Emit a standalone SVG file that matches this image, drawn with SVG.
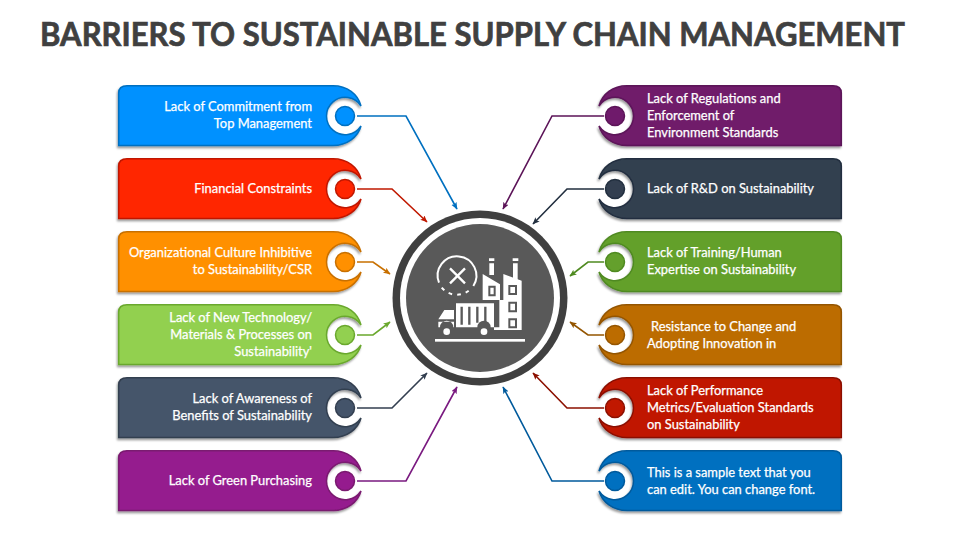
<svg xmlns="http://www.w3.org/2000/svg" width="960" height="540" viewBox="0 0 960 540">
<style>
text{font-family:"Lato","Open Sans","Liberation Sans",sans-serif}
.title{font-size:33px;font-weight:700;fill:#404040;stroke:#404040;stroke-width:.7}
.t{font-size:12.9px;font-weight:400;fill:#fff;stroke:#fff;stroke-width:.25}
.l{text-anchor:end}
.tag{stroke-width:1.5;filter:url(#sh)}
.dot{stroke-width:1.5}
.c{fill:none;stroke-width:1.6}
.w{fill:#fff}
.ws{fill:none;stroke:#fff}
</style>
<defs>
<filter id="sh" x="-5%" y="-10%" width="110%" height="125%"><feDropShadow dx="-1" dy="2" stdDeviation="1.2" flood-color="#000" flood-opacity="0.4"/></filter>
<path id="tl" d="M127,.7H333C347,.7 358,9 361,21A18.7,18.7 0 1 0 361,41C358,52 347,60.500 333,60.500H118.700V8Q118.700,.7 127,.7Z"/>
<path id="tr" d="M833,.7H627C613,.7 602,9 599,21A18.7,18.7 0 1 1 599,41C602,52 613,60.500 627,60.500H841.300V8Q841.300,.7 833,.7Z"/>
<marker id="a" markerWidth="8" markerHeight="8" refX="6.5" refY="3" orient="auto" markerUnits="userSpaceOnUse"><path d="M0,0L7,3L0,6L1.5,3Z" fill="context-stroke"/></marker>
</defs>
<text class="title" x="40" y="46" textLength="865" lengthAdjust="spacingAndGlyphs">BARRIERS TO SUSTAINABLE SUPPLY CHAIN MANAGEMENT</text>
<g id="connectors">
<path class="c" marker-end="url(#a)" stroke="#0070c0" d="M357,116H406L457,209"/>
<path class="c" marker-end="url(#a)" stroke="#c01800" d="M357,189H392L427,222"/>
<path class="c" marker-end="url(#a)" stroke="#c87000" d="M357,262H373L390,274"/>
<path class="c" marker-end="url(#a)" stroke="#6aa82d" d="M357,335H373L390,322"/>
<path class="c" marker-end="url(#a)" stroke="#333f50" d="M357,408H392L427,373"/>
<path class="c" marker-end="url(#a)" stroke="#7a1a80" d="M357,481H406L457,387"/>
<path class="c" marker-end="url(#a)" stroke="#5c1458" d="M604,116H552L503,209"/>
<path class="c" marker-end="url(#a)" stroke="#222f3f" d="M604,189H567L533,224"/>
<path class="c" marker-end="url(#a)" stroke="#4f8a20" d="M604,262H588L570,276"/>
<path class="c" marker-end="url(#a)" stroke="#945500" d="M604,335H588L570,322"/>
<path class="c" marker-end="url(#a)" stroke="#8c1000" d="M604,408H567L533,373"/>
<path class="c" marker-end="url(#a)" stroke="#005a9c" d="M604,481H552L503,387"/>
</g>
<g id="n1"><use href="#tl" y="85" class="tag" fill="#0091ff" stroke="#0070c0"/><circle class="dot" cx="345" cy="116" r="9.500" fill="#0091ff" stroke="#0070c0"/><text class="t l" x="312" y="111">Lack of Commitment from</text><text class="t l" x="312" y="128">Top Management</text></g>
<g id="n2"><use href="#tl" y="158" class="tag" fill="#ff2500" stroke="#c01800"/><circle class="dot" cx="345" cy="189" r="9.500" fill="#ff2500" stroke="#c01800"/><text class="t l" x="312" y="193">Financial Constraints</text></g>
<g id="n3"><use href="#tl" y="231" class="tag" fill="#ff9000" stroke="#c87000"/><circle class="dot" cx="345" cy="262" r="9.500" fill="#ff9000" stroke="#c87000"/><text class="t l" x="312" y="257">Organizational Culture Inhibitive</text><text class="t l" x="312" y="274">to Sustainability/CSR</text></g>
<g id="n4"><use href="#tl" y="304" class="tag" fill="#92d050" stroke="#6aa82d"/><circle class="dot" cx="345" cy="335" r="9.500" fill="#92d050" stroke="#6aa82d"/><text class="t l" x="312" y="322">Lack of New Technology/</text><text class="t l" x="312" y="339">Materials &amp; Processes on</text><text class="t l" x="312" y="356">Sustainability'</text></g>
<g id="n5"><use href="#tl" y="377" class="tag" fill="#44546a" stroke="#333f50"/><circle class="dot" cx="345" cy="408" r="9.500" fill="#44546a" stroke="#333f50"/><text class="t l" x="312" y="403">Lack of Awareness of</text><text class="t l" x="312" y="420">Benefits of Sustainability</text></g>
<g id="n6"><use href="#tl" y="450" class="tag" fill="#951b8e" stroke="#7a1a70"/><circle class="dot" cx="345" cy="481" r="9.500" fill="#951b8e" stroke="#7a1a70"/><text class="t l" x="312" y="485">Lack of Green Purchasing</text></g>
<g id="n7"><use href="#tr" y="85" class="tag" fill="#6f1a6b" stroke="#5c1458"/><circle class="dot" cx="615" cy="116" r="9.500" fill="#6f1a6b" stroke="#5c1458"/><text class="t" x="647" y="103">Lack of Regulations and</text><text class="t" x="647" y="120">Enforcement of</text><text class="t" x="647" y="137">Environment Standards</text></g>
<g id="n8"><use href="#tr" y="158" class="tag" fill="#333f50" stroke="#222f3f"/><circle class="dot" cx="615" cy="189" r="9.500" fill="#333f50" stroke="#222f3f"/><text class="t" x="647" y="193">Lack of R&amp;D on Sustainability</text></g>
<g id="n9"><use href="#tr" y="231" class="tag" fill="#64a02c" stroke="#4f8a20"/><circle class="dot" cx="615" cy="262" r="9.500" fill="#64a02c" stroke="#4f8a20"/><text class="t" x="647" y="257">Lack of Training/Human</text><text class="t" x="647" y="274">Expertise on Sustainability</text></g>
<g id="n10"><use href="#tr" y="304" class="tag" fill="#bc6c00" stroke="#945500"/><circle class="dot" cx="615" cy="335" r="9.500" fill="#bc6c00" stroke="#945500"/><text class="t" x="651" y="331">Resistance to Change and</text><text class="t" x="647" y="348">Adopting Innovation in</text></g>
<g id="n11"><use href="#tr" y="377" class="tag" fill="#c01800" stroke="#8c1000"/><circle class="dot" cx="615" cy="408" r="9.500" fill="#c01800" stroke="#8c1000"/><text class="t" x="647" y="395">Lack of Performance</text><text class="t" x="647" y="412">Metrics/Evaluation Standards</text><text class="t" x="647" y="429">on Sustainability</text></g>
<g id="n12"><use href="#tr" y="450" class="tag" fill="#0070c0" stroke="#005a9c"/><circle class="dot" cx="615" cy="481" r="9.500" fill="#0070c0" stroke="#005a9c"/><text class="t" x="647" y="477">This is a sample text that you</text><text class="t" x="647" y="494">can edit. You can change font.</text></g>
<g id="hub">
<circle cx="480" cy="298" r="87.500" fill="#404040"/><circle cx="480" cy="298" r="80" fill="#fff"/><circle cx="480" cy="298" r="74" fill="#595959"/>
<g transform="translate(430,250) scale(.33333)">
<rect class="w" x="15" y="267" width="270" height="8"/>
<path class="ws" stroke-width="6" d="M27,98A58,58 0 1 1 130,108"/>
<path class="ws" stroke-width="6" stroke-dasharray="11 15" d="M116,122A58,58 0 0 1 30,105"/>
<path class="ws" stroke-width="7" d="M60,55L105,100M105,55L60,100"/>
<path class="w" d="M177,25h16v8h-16zM248,25h17v8h-17zM178,40h14v35h-14zM249,40h14v50h-14z"/>
<path class="w" d="M158,72L210,103V150H158Z"/>
<path class="w" d="M220,72L275,92V240H192V232H208V150H220Z"/>
<path d="M178,110h16v26h-16zM238,108h20v24h-20zM238,158h20v26h-20zM238,208h20v24h-20z" class="w" stroke="#595959" stroke-width="6"/>
<path class="w" d="M78,160H192V232H182A20,20 0 0 0 142,232H78Z"/>
<path d="M95,170v54M118,170v54M142,170v48M166,170v48" stroke="#595959" stroke-width="7" fill="none"/>
<path class="w" d="M25,208L43,180H72V208ZM25,215H72V232H70A20,20 0 0 0 30,232H25Z"/>
<circle class="w" cx="50" cy="245" r="10"/><circle class="w" cx="162" cy="245" r="10"/>
</g>
</g>
</svg>
